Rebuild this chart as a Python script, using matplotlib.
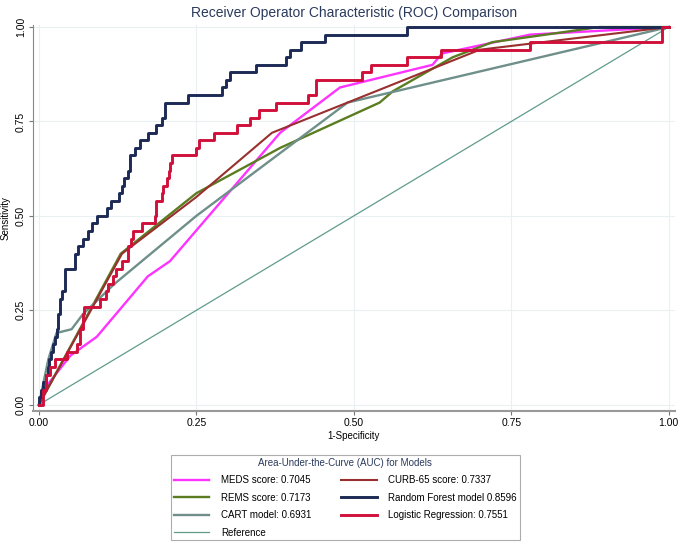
import numpy as np
import matplotlib
matplotlib.use('Agg')
import matplotlib.pyplot as plt

plt.rcParams['font.family'] = ['Liberation Sans', 'DejaVu Sans']

# ROC curves (1-specificity, sensitivity)
meds_fpr = [0, 0.017, 0.05, 0.092, 0.173, 0.208, 0.383, 0.478, 0.625, 0.64, 0.78, 1.0]
meds_tpr = [0, 0.06, 0.13, 0.18, 0.34, 0.38, 0.72, 0.84, 0.90, 0.93, 0.98, 1.0]

rems_fpr = [0, 0.13, 0.25, 0.383, 0.541, 0.562, 0.657, 0.72, 0.89, 1.0]
rems_tpr = [0, 0.40, 0.56, 0.68, 0.80, 0.83, 0.92, 0.96, 1.0, 1.0]

cart_fpr = [0, 0.015, 0.028, 0.052, 0.07, 0.12, 0.25, 0.49, 1.0]
cart_tpr = [0, 0.12, 0.19, 0.20, 0.24, 0.32, 0.50, 0.80, 1.0]

curb_fpr = [0, 0.132, 0.25, 0.37, 0.70, 1.0]
curb_tpr = [0, 0.40, 0.55, 0.72, 0.94, 1.0]

# step curves: x where the jump happens, level after the jump
rf_fpr = [0, 0, 0.003, 0.006, 0.012, 0.014, 0.016, 0.019, 0.022, 0.025, 0.028, 0.030,
          0.033, 0.036, 0.041, 0.057, 0.062, 0.070, 0.078, 0.084, 0.092, 0.108, 0.115,
          0.128, 0.132, 0.135, 0.142, 0.145, 0.152, 0.160, 0.173, 0.186, 0.195, 0.200,
          0.236, 0.290, 0.297, 0.303, 0.345, 0.392, 0.398, 0.416, 0.454, 0.584, 1.0]
rf_tpr = [0, 0.02, 0.04, 0.06, 0.08, 0.10, 0.12, 0.14, 0.16, 0.18, 0.20, 0.24,
          0.28, 0.30, 0.36, 0.40, 0.42, 0.44, 0.46, 0.48, 0.50, 0.52, 0.54,
          0.56, 0.58, 0.60, 0.62, 0.66, 0.68, 0.70, 0.72, 0.74, 0.76, 0.80,
          0.82, 0.84, 0.86, 0.88, 0.90, 0.92, 0.94, 0.96, 0.98, 1.0, 1.0]

lr_fpr = [0, 0.006, 0.012, 0.017, 0.025, 0.044, 0.060, 0.065, 0.070, 0.072, 0.097,
          0.106, 0.110, 0.117, 0.122, 0.132, 0.141, 0.146, 0.150, 0.163, 0.184, 0.186,
          0.195, 0.197, 0.203, 0.206, 0.208, 0.212, 0.250, 0.254, 0.278, 0.314, 0.335,
          0.350, 0.376, 0.427, 0.440, 0.513, 0.527, 0.585, 0.638, 0.780, 0.990, 1.0]
lr_tpr = [0, 0.04, 0.08, 0.10, 0.12, 0.14, 0.16, 0.20, 0.24, 0.26, 0.28,
          0.30, 0.32, 0.34, 0.36, 0.38, 0.42, 0.44, 0.46, 0.48, 0.50, 0.54,
          0.56, 0.58, 0.60, 0.62, 0.64, 0.66, 0.68, 0.70, 0.72, 0.74, 0.76,
          0.78, 0.80, 0.82, 0.86, 0.88, 0.90, 0.92, 0.94, 0.96, 1.0, 1.0]

ticks = [0, 0.25, 0.5, 0.75, 1.0]
tick_labels = ['0.00', '0.25', '0.50', '0.75', '1.00']

fig = plt.figure(figsize=(6.85, 5.47), dpi=100)
ax = fig.add_axes([0.048, 0.249, 0.937, 0.705])

ax.plot([0, 1], [0, 1], color='#5f9c8c', lw=0.9, label='Reference', zorder=2)
ax.plot(meds_fpr, meds_tpr, color='#ff33ff', lw=1.7, label='MEDS score: 0.7045', zorder=3)
ax.plot(rems_fpr, rems_tpr, color='#5b7d22', lw=1.7, label='REMS score: 0.7173', zorder=3)
ax.plot(cart_fpr, cart_tpr, color='#6f8f8a', lw=1.7, label='CART model: 0.6931', zorder=3)
ax.plot(curb_fpr, curb_tpr, color='#9a2f2f', lw=1.5, label='CURB-65 score: 0.7337', zorder=4)
ax.plot(rf_fpr, rf_tpr, color='#1c2a55', lw=2.1, drawstyle='steps-post',
        label='Random Forest model 0.8596', zorder=5)
ax.plot(lr_fpr, lr_tpr, color='#d0103a', lw=2.1, drawstyle='steps-post',
        label='Logistic Regression: 0.7551', zorder=6)

ax.set_xlim(-0.0095, 1.0095)
ax.set_ylim(-0.016, 1.005)
ax.set_xticks(ticks)
ax.set_xticklabels(tick_labels)
ax.set_yticks(ticks)
ax.set_yticklabels(tick_labels, rotation=90, va='center')
ax.tick_params(labelsize=7.5, length=3, width=0.8, color='#777777', pad=2)
ax.grid(True, color='#eaf0f2', lw=0.8)
ax.set_axisbelow(True)
for s in ['top', 'right']:
    ax.spines[s].set_visible(False)
ax.spines['left'].set_color('#888888')
ax.spines['bottom'].set_color('#999999')
ax.spines['bottom'].set_linewidth(1.5)

ax.set_xlabel('1-Specificity', fontsize=7, labelpad=2)
ax.set_ylabel('Sensitivity', fontsize=7, labelpad=4)
ax.set_title('Receiver Operator Characteristic (ROC) Comparison', fontsize=10,
             color='#2a3a5c', pad=6)

h, l = ax.get_legend_handles_labels()
order = [1, 2, 3, 0, 4, 5, 6]
leg = fig.legend([h[i] for i in order], [l[i] for i in order], ncol=2,
                 loc='upper center', bbox_to_anchor=(0.504, 0.168),
                 title='Area-Under-the-Curve (AUC) for Models',
                 fontsize=7, title_fontsize=7, frameon=True, fancybox=False,
                 edgecolor='#999999', handlelength=3.7, handletextpad=1.2,
                 columnspacing=3.0, labelspacing=0.76, borderpad=0.3,
                 borderaxespad=0)
leg.get_title().set_color('#2a3a5c')
leg.get_frame().set_linewidth(0.8)

fig.savefig('out.png', dpi=100)
